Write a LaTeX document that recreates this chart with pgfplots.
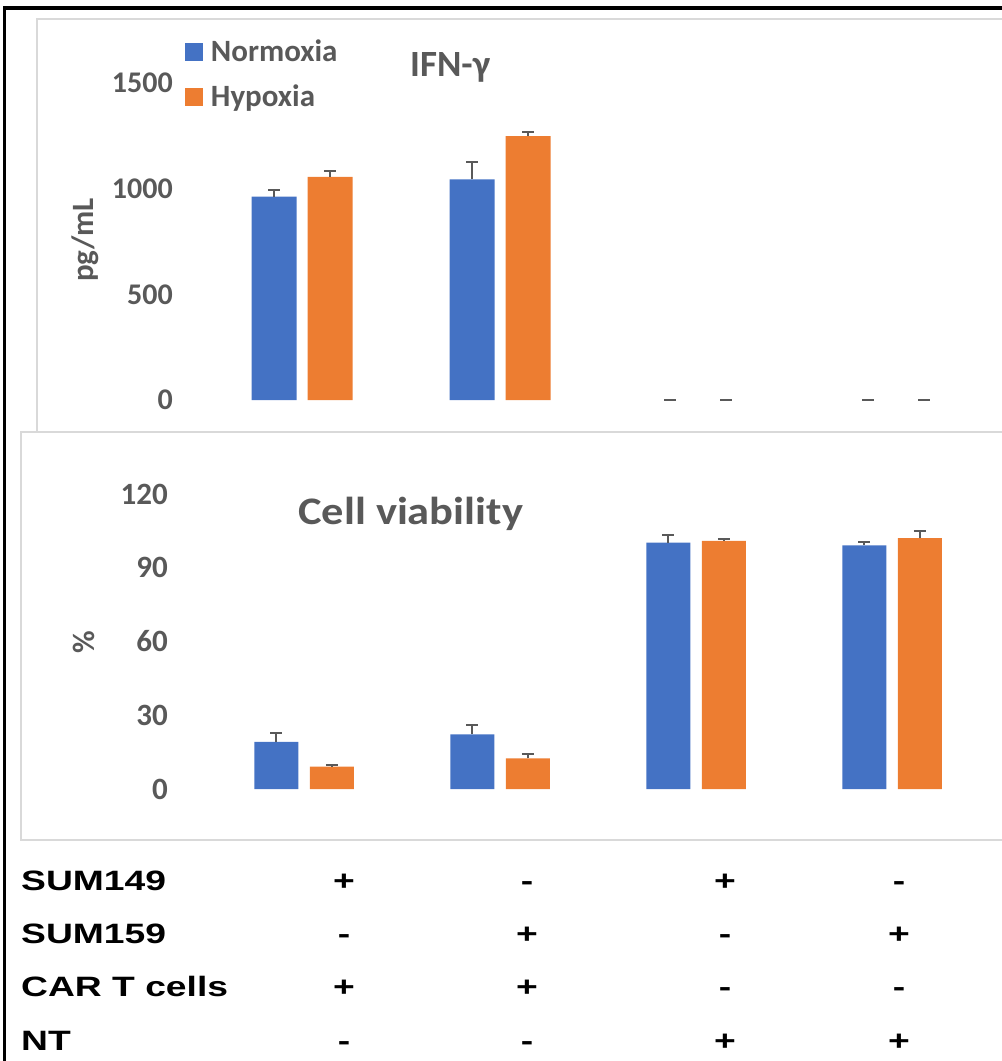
\documentclass[border=0pt]{standalone}
\usepackage{fontspec}
\setmainfont{Carlito}
\newfontfamily\tabfont[FakeStretch=1.33]{Liberation Sans}
\newfontfamily\cvfont[FakeStretch=1.14]{Carlito}
\usepackage{pgfplots}
\pgfplotsset{compat=1.18}
\definecolor{cblue}{HTML}{4472C4}
\definecolor{corange}{HTML}{ED7D31}
\definecolor{tgray}{HTML}{595959}
\definecolor{fgray}{HTML}{D9D9D9}
\pgfplotsset{mybars/.style={
  scale only axis, xmin=-0.5, xmax=3.5, xtick=\empty,
  axis line style={draw=none}, major tick length=0pt, tick style={draw=none},
  clip=false,
  yticklabel style={anchor=east, inner sep=0pt, font=\bfseries\fontsize{30}{30}\selectfont, text=tgray},
  error bars/y dir=plus, error bars/y explicit,
  error bars/error bar style={line width=2pt, tgray},
  error bars/error mark options={rotate=90, mark size=6pt, line width=2pt, tgray},
}}
\newcommand{\tabf}{\tabfont\bfseries\fontsize{28}{28}\selectfont}
\begin{document}
\begin{tikzpicture}
\useasboundingbox (0,0) rectangle (1002pt,-1061pt);
\clip (0,0) rectangle (1002pt,-1061pt);
% frames
\draw[fgray, line width=1.5pt] (37pt,-19pt) rectangle (1020pt,-432pt);
\draw[fgray, line width=1.5pt] (21pt,-432pt) rectangle (1020pt,-840pt);
\draw[black, line width=3.5pt] (4.7pt,-1100pt) -- (4.7pt,-8pt) -- (1100pt,-8pt);

% top panel: IFN-gamma
\begin{axis}[mybars, ybar=11pt, bar width=45pt,
  at={(203pt,-400pt)}, anchor=south west,
  width=792pt, height=317pt, ymin=0, ymax=1500,
  ytick={0,500,1000,1500}, yticklabels={0,500,1000,1500},
  yticklabel style={xshift=-30pt},
  legend cell align=left,
  legend style={at={(-0.02273,1.1325)}, anchor=north west, draw=none, fill=none,
    inner sep=0pt, outer sep=0pt, row sep=19pt, column sep=8pt,
    font=\bfseries\fontsize{31}{31}\selectfont,
    nodes={inner sep=0pt, text height=20pt, text depth=6pt, text=tgray}},
]
\addplot[fill=cblue, draw=none,
  legend image code/.code={\fill[cblue] (0pt,-7pt) rectangle (18pt,11pt);}]
  coordinates {(0,962) +- (0,30) (1,1044) +- (0,80)};
\addlegendentry{Normoxia}
\addplot[fill=corange, draw=none,
  legend image code/.code={\fill[corange] (0pt,-7pt) rectangle (18pt,11pt);}]
  coordinates {(0,1056) +- (0,29) (1,1249) +- (0,20)};
\addlegendentry{Hypoxia}
% zero values (groups 3 and 4): only the error-bar caps are visible at 0
\addplot[sharp plot, draw=none, mark=none, forget plot]
  coordinates {(1.7172,0) +- (0,0) (2.0,0) +- (0,0) (2.7172,0) +- (0,0) (3.0,0) +- (0,0)};
\end{axis}

% bottom panel: cell viability
\begin{axis}[mybars, ybar=11.5pt, bar width=44pt,
  at={(206pt,-789pt)}, anchor=south west,
  width=784pt, height=295pt, ymin=0, ymax=120,
  ytick={0,30,60,90,120}, yticklabels={0,30,60,90,120},
  yticklabel style={xshift=-38pt, font=\bfseries\fontsize{31}{31}\selectfont},
]
\addplot[fill=cblue, draw=none]
  coordinates {(0,19.2) +- (0,3.7) (1,22.2) +- (0,4.0) (2,100.2) +- (0,3.1) (3,99.1) +- (0,1.4)};
\addplot[fill=corange, draw=none]
  coordinates {(0,9.1) +- (0,0.7) (1,12.5) +- (0,1.7) (2,100.9) +- (0,0.9) (3,102.1) +- (0,2.9)};
\end{axis}

% titles and axis labels
\node[anchor=base west, inner sep=0pt, text=tgray, font=\bfseries\fontsize{37}{37}\selectfont] at (410pt,-76pt) {IFN-γ};
\node[anchor=base west, inner sep=0pt, text=tgray, font=\cvfont\bfseries\fontsize{39}{39}\selectfont] at (298pt,-524pt) {Cell viability};
\node[rotate=90, inner sep=0pt, text=tgray, font=\bfseries\fontsize{31}{31}\selectfont] at (85pt,-240pt) {pg/mL};
\node[rotate=90, inner sep=0pt, text=tgray, font=\bfseries\fontsize{31}{31}\selectfont] at (84pt,-642pt) {\%};

% condition table
\foreach \lab/\yy in {SUM149/890, SUM159/943, CAR T cells/996.5, NT/1050}
  \node[anchor=base west, inner sep=0pt, font=\tabf] at (21pt,-\yy pt) {\lab};
\foreach \a/\b/\c/\d/\yy in {+/-/+/-/890, -/+/-/+/943, +/+/-/-/996.5, -/-/+/+/1050}{
  \node[anchor=base, inner sep=0pt, font=\tabf] at (344pt,-\yy pt) {\a};
  \node[anchor=base, inner sep=0pt, font=\tabf] at (527pt,-\yy pt) {\b};
  \node[anchor=base, inner sep=0pt, font=\tabf] at (725pt,-\yy pt) {\c};
  \node[anchor=base, inner sep=0pt, font=\tabf] at (899pt,-\yy pt) {\d};
}
\end{tikzpicture}
\end{document}
